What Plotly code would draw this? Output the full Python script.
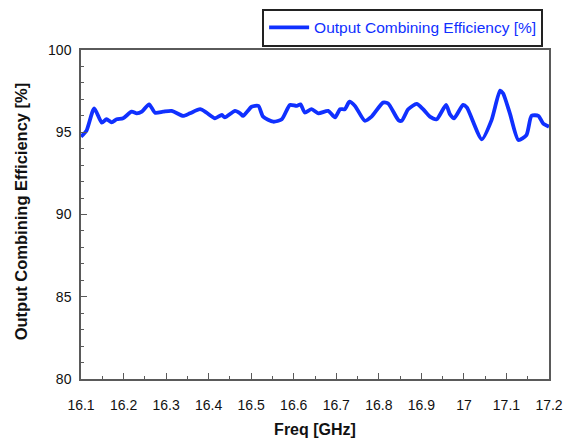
import plotly.graph_objects as go

freq_ghz = [16.100, 16.113, 16.131, 16.149, 16.160, 16.172, 16.184, 16.199, 16.219, 16.231,
            16.243, 16.260, 16.274, 16.293, 16.313, 16.340, 16.356, 16.380, 16.395, 16.415,
            16.431, 16.438, 16.462, 16.474, 16.481, 16.501, 16.517, 16.528, 16.552, 16.572,
            16.591, 16.607, 16.616, 16.626, 16.642, 16.658, 16.681, 16.697, 16.709, 16.720,
            16.731, 16.744, 16.767, 16.783, 16.810, 16.822, 16.846, 16.854, 16.869, 16.889,
            16.904, 16.920, 16.936, 16.958, 16.967, 16.977, 16.998, 17.007, 17.042, 17.065,
            17.085, 17.092, 17.108, 17.128, 17.147, 17.159, 17.175, 17.186, 17.200]
efficiency_pct = [94.73, 95.10, 96.45, 95.58, 95.79, 95.60, 95.79, 95.85, 96.25, 96.15,
                  96.25, 96.70, 96.19, 96.25, 96.30, 95.99, 96.15, 96.40, 96.19, 95.85,
                  96.05, 95.90, 96.30, 96.15, 95.99, 96.55, 96.60, 95.95, 95.64, 95.79,
                  96.66, 96.60, 96.70, 96.20, 96.40, 96.15, 96.30, 95.90, 96.40, 96.40,
                  96.86, 96.60, 95.70, 95.95, 96.80, 96.75, 95.74, 95.70, 96.40, 96.72,
                  96.40, 95.95, 95.79, 96.66, 96.10, 95.85, 96.66, 96.50, 94.57, 95.74,
                  97.53, 97.37, 96.15, 94.53, 94.83, 96.00, 96.00, 95.54, 95.34]

x_tick_vals = [16.1, 16.2, 16.3, 16.4, 16.5, 16.6, 16.7, 16.8, 16.9, 17.0, 17.1, 17.2]
x_tick_text = ["16.1", "16.2", "16.3", "16.4", "16.5", "16.6", "16.7", "16.8", "16.9", "17", "17.1", "17.2"]
y_tick_vals = [80, 85, 90, 95, 100]
y_tick_text = ["80", "85", "90", "95", "100"]

series_name = "Output Combining Efficiency [%]"
font_family = "Liberation Sans, Arial, sans-serif"
axis_color = "#5a5a5a"
line_color = "#1030ff"

fig = go.Figure()
fig.add_trace(go.Scatter(
    x=freq_ghz, y=efficiency_pct, mode="lines", name=series_name,
    line=dict(color=line_color, width=3.8, shape="spline", smoothing=0.6),
))

axis_common = dict(
    showgrid=False, zeroline=False, showline=True, linecolor=axis_color, linewidth=1.5,
    mirror=True, ticks="inside", ticklen=6, tickwidth=1, tickcolor=axis_color,
    tickfont=dict(family=font_family, size=14, color="#111"), automargin=False,
)

fig.update_xaxes(
    range=[16.1, 17.2], tickmode="array", tickvals=x_tick_vals, ticktext=x_tick_text,
    minor=dict(ticks="inside", ticklen=3, dtick=0.05, tick0=16.1, tickcolor=axis_color),
    ticklabelstandoff=12,
    title=dict(text="<b>Freq [GHz]</b>", font=dict(family=font_family, size=16, color="#111"), standoff=12),
    **axis_common,
)
fig.update_yaxes(
    range=[80, 100], tickmode="array", tickvals=y_tick_vals, ticktext=y_tick_text,
    minor=dict(ticks="inside", ticklen=3, dtick=1, tick0=80, tickcolor=axis_color),
    ticklabelstandoff=5,
    **axis_common,
)

fig.add_annotation(
    text="<b>Output Combining Efficiency [%]</b>", xref="paper", yref="paper",
    x=-0.128, y=0.51, xanchor="center", yanchor="middle", textangle=-90, showarrow=False,
    font=dict(family=font_family, size=16.5, color="#111"),
)

fig.update_layout(
    width=571, height=442,
    margin=dict(l=81, r=22, t=50, b=63, autoexpand=False),
    paper_bgcolor="white", plot_bgcolor="white",
    showlegend=True,
    legend=dict(
        x=0.387, y=1.125, xanchor="left", yanchor="top",
        bordercolor="#222", borderwidth=2, bgcolor="white",
        font=dict(family=font_family, size=15.5, color=line_color),
        itemwidth=40,
    ),
)

fig.write_html("out.html", config={"displayModeBar": False},
               post_script="document.body.style.margin='0px';")
